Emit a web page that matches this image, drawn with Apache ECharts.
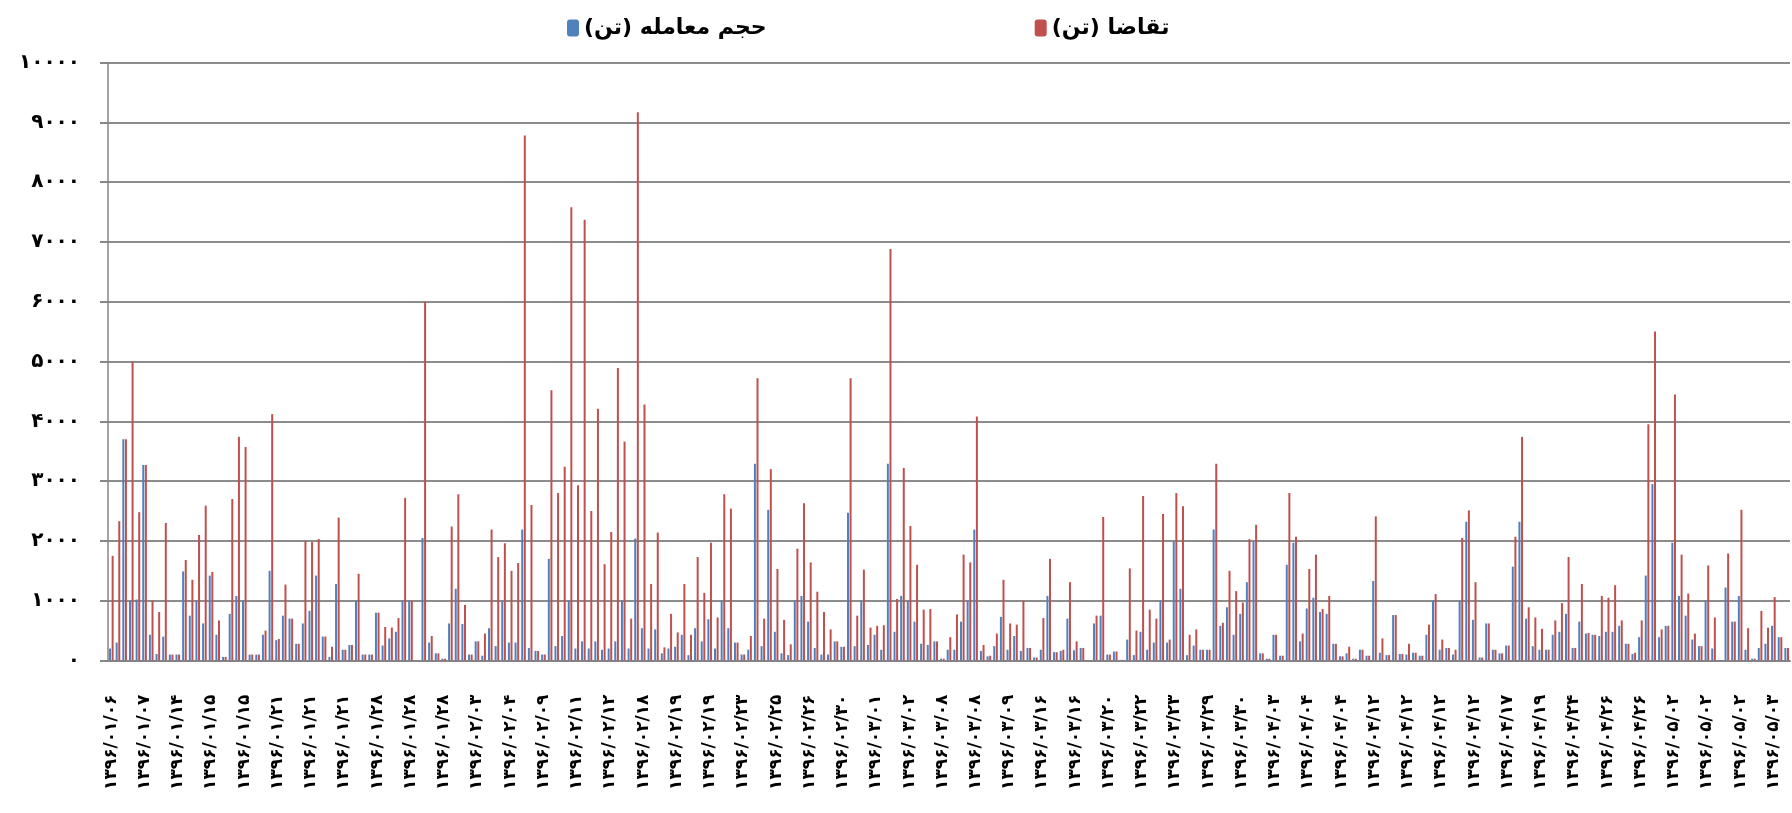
<!DOCTYPE html>
<html>
<head>
<meta charset="utf-8">
<script src="https://cdn.jsdelivr.net/npm/echarts@6/dist/echarts.min.js"></script>
<style>
  html, body { margin: 0; padding: 0; background: #fff; }
  #chart { width: 1792px; height: 813px; }
</style>
</head>
<body>
<div id="chart"></div>
<script>
// labels shown on the x axis (every 5th category)
const tickDates = [
  '۱۳۹۶/۰۱/۰۶', '۱۳۹۶/۰۱/۰۷', '۱۳۹۶/۰۱/۱۴', '۱۳۹۶/۰۱/۱۵', '۱۳۹۶/۰۱/۱۵',
  '۱۳۹۶/۰۱/۲۱', '۱۳۹۶/۰۱/۲۱', '۱۳۹۶/۰۱/۲۱', '۱۳۹۶/۰۱/۲۸', '۱۳۹۶/۰۱/۲۸',
  '۱۳۹۶/۰۱/۲۸', '۱۳۹۶/۰۲/۰۳', '۱۳۹۶/۰۲/۰۴', '۱۳۹۶/۰۲/۰۹', '۱۳۹۶/۰۲/۱۱',
  '۱۳۹۶/۰۲/۱۲', '۱۳۹۶/۰۲/۱۸', '۱۳۹۶/۰۲/۱۹', '۱۳۹۶/۰۲/۱۹', '۱۳۹۶/۰۲/۲۳',
  '۱۳۹۶/۰۲/۲۵', '۱۳۹۶/۰۲/۲۶', '۱۳۹۶/۰۲/۳۰', '۱۳۹۶/۰۳/۰۱', '۱۳۹۶/۰۳/۰۲',
  '۱۳۹۶/۰۳/۰۸', '۱۳۹۶/۰۳/۰۸', '۱۳۹۶/۰۳/۰۹', '۱۳۹۶/۰۳/۱۶', '۱۳۹۶/۰۳/۱۶',
  '۱۳۹۶/۰۳/۲۰', '۱۳۹۶/۰۳/۲۲', '۱۳۹۶/۰۳/۲۳', '۱۳۹۶/۰۳/۲۹', '۱۳۹۶/۰۳/۳۰',
  '۱۳۹۶/۰۴/۰۳', '۱۳۹۶/۰۴/۰۴', '۱۳۹۶/۰۴/۰۴', '۱۳۹۶/۰۴/۱۲', '۱۳۹۶/۰۴/۱۲',
  '۱۳۹۶/۰۴/۱۲', '۱۳۹۶/۰۴/۱۲', '۱۳۹۶/۰۴/۱۷', '۱۳۹۶/۰۴/۱۹', '۱۳۹۶/۰۴/۲۴',
  '۱۳۹۶/۰۴/۲۶', '۱۳۹۶/۰۴/۲۶', '۱۳۹۶/۰۵/۰۲', '۱۳۹۶/۰۵/۰۲', '۱۳۹۶/۰۵/۰۲',
  '۱۳۹۶/۰۵/۰۳'
]

// حجم معامله (تن)
const volume = [
  200, 300, 3700, 1000, 1020, 3270, 430, 110, 400, 100,
  100, 1490, 750, 1000, 620, 1420, 430, 60, 780, 1080,
  1000, 100, 100, 430, 1500, 340, 750, 700, 280, 620,
  830, 1420, 400, 60, 1280, 180, 260, 1000, 100, 100,
  800, 250, 370, 480, 1000, 1000, 0, 2050, 300, 120,
  30, 620, 1200, 610, 100, 320, 80, 540, 240, 1000,
  300, 300, 2190, 210, 160, 100, 1700, 240, 410, 1000,
  200, 320, 200, 320, 180, 200, 320, 1000, 200, 2040,
  540, 200, 520, 120, 200, 230, 430, 90, 540, 320,
  690, 200, 1000, 540, 300, 100, 180, 3290, 240, 2520,
  480, 120, 90, 1000, 1080, 650, 210, 100, 100, 320,
  230, 2470, 240, 1000, 260, 430, 180, 3290, 480, 1080,
  1000, 650, 280, 260, 320, 30, 180, 180, 650, 1000,
  2190, 160, 70, 240, 730, 180, 410, 160, 210, 50,
  180, 1080, 140, 160, 700, 170, 210, 5, 620, 750,
  100, 150, 10, 350, 90, 480, 180, 300, 1000, 300,
  1990, 1200, 90, 250, 180, 180, 2190, 580, 890, 430,
  780, 1310, 1990, 120, 30, 430, 80, 1600, 1970, 320,
  870, 1050, 810, 780, 280, 70, 120, 30, 180, 80,
  1330, 130, 90, 760, 110, 100, 130, 80, 430, 1000,
  180, 210, 100, 1000, 2320, 680, 50, 620, 180, 120,
  250, 1570, 2320, 700, 240, 180, 180, 430, 480, 780,
  210, 650, 450, 430, 410, 480, 480, 580, 280, 110,
  390, 1420, 2950, 390, 580, 1970, 1080, 750, 350, 240,
  1000, 200, 10, 1220, 650, 1080, 180, 30, 210, 280,
  580, 390, 210
]

// تقاضا (تن)
const demand = [
  1750, 2330, 3700, 5000, 2480, 3270, 1000, 810, 2300, 100,
  100, 1680, 1350, 2100, 2590, 1480, 670, 60, 2700, 3740,
  3570, 100, 100, 500, 4120, 360, 1270, 700, 280, 2000,
  1980, 2030, 400, 230, 2390, 180, 260, 1450, 100, 100,
  800, 560, 550, 710, 2720, 1000, 0, 6000, 410, 120,
  30, 2240, 2780, 930, 100, 320, 450, 2190, 1730, 1960,
  1500, 1630, 8780, 2600, 160, 100, 4520, 2800, 3240, 7580,
  2930, 7370, 2500, 4210, 1610, 2150, 4890, 3660, 700, 9170,
  4280, 1280, 2140, 220, 780, 470, 1280, 430, 1730, 1130,
  1970, 720, 2780, 2540, 300, 100, 410, 4720, 700, 3200,
  1530, 680, 270, 1870, 2630, 1640, 1150, 810, 520, 320,
  230, 4720, 750, 1520, 550, 580, 590, 6880, 1030, 3220,
  2250, 1600, 850, 860, 320, 30, 390, 770, 1770, 1640,
  4080, 260, 80, 450, 1350, 620, 600, 1000, 210, 50,
  710, 1700, 140, 180, 1310, 320, 210, 5, 750, 2400,
  100, 150, 10, 1540, 500, 2750, 850, 700, 2450, 350,
  2800, 2580, 430, 520, 180, 180, 3290, 630, 1500, 1160,
  970, 2030, 2270, 120, 30, 430, 80, 2800, 2070, 450,
  1530, 1770, 860, 1080, 280, 70, 230, 30, 180, 80,
  2410, 370, 90, 760, 110, 280, 130, 80, 600, 1110,
  350, 210, 180, 2050, 2510, 1310, 50, 620, 180, 120,
  250, 2070, 3740, 890, 720, 530, 180, 670, 960, 1730,
  210, 1280, 460, 430, 1080, 1050, 1260, 670, 280, 130,
  670, 3950, 5500, 520, 580, 4450, 1770, 1120, 450, 240,
  1590, 720, 10, 1790, 650, 2520, 540, 30, 830, 550,
  1060, 390, 210
]

// each shown date stands for a block of five trades
const categories = []
tickDates.forEach(function (d) {
  for (let k = 0; k < 5; k++) categories.push(d)
})
categories.length = volume.length

const faDigits = '۰۱۲۳۴۵۶۷۸۹'
function toFa (n) {
  return String(n).replace(/[0-9]/g, function (c) { return faDigits[+c] })
}

const nameVolume = 'حجم معامله (تن)\u200F'
const nameDemand = 'تقاضا (تن)\u200F'
const font = 'DejaVu Sans'

const myChart = echarts.init(document.getElementById('chart'))
myChart.setOption({
  animation: false,
  color: ['#4F81BD', '#C0504D'],
  legend: {
    data: [nameVolume, nameDemand],
    left: 562,
    top: 12,
    itemWidth: 12,
    itemHeight: 17,
    itemGap: 268,
    textStyle: {
      fontFamily: font,
      fontSize: 22,
      fontWeight: 'bold',
      color: '#000'
    }
  },
  grid: {
    left: 108,
    right: 2,
    top: 62.5,
    bottom: 152.5
  },
  xAxis: {
    type: 'category',
    data: categories,
    boundaryGap: true,
    axisLine: {
      lineStyle: { color: '#868686', width: 2 }
    },
    axisTick: {
      interval: 0,
      length: 7,
      lineStyle: { color: '#8a8a8a', width: 1.5 }
    },
    axisLabel: {
      interval: 4,
      rotate: 90,
      margin: 34,
      fontFamily: font,
      fontSize: 17,
      fontWeight: 'bold',
      color: '#000'
    }
  },
  yAxis: {
    type: 'value',
    min: 0,
    max: 10000,
    interval: 1000,
    axisLine: {
      show: true,
      lineStyle: { color: '#868686', width: 1.5 }
    },
    axisTick: {
      show: true,
      length: 8,
      lineStyle: { color: '#868686', width: 2 }
    },
    splitLine: {
      lineStyle: { color: '#8c8c8c', width: 2 }
    },
    axisLabel: {
      margin: 28,
      fontFamily: font,
      fontSize: 20,
      fontWeight: 'bold',
      color: '#000',
      formatter: function (v) { return toFa(v) }
    }
  },
  series: [
    {
      name: nameVolume,
      type: 'bar',
      data: volume,
      barWidth: 2,
      barGap: '30%'
    },
    {
      name: nameDemand,
      type: 'bar',
      data: demand,
      barWidth: 2
    }
  ]
})
</script>
</body>
</html>
